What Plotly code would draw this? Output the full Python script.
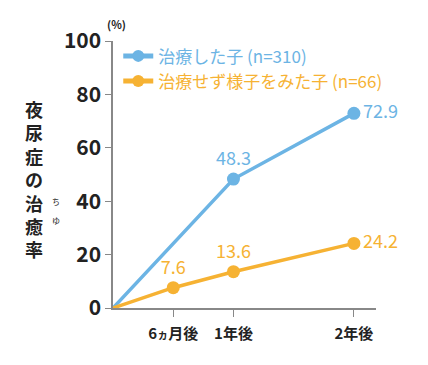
import plotly.graph_objects as go

months_treated = [0, 12, 24]
vals_treated = [0, 48.3, 72.9]
labels_treated = ["", "48.3", "72.9"]
pos_treated = ["top center", "top center", "middle right"]

months_watch = [0, 6, 12, 24]
vals_watch = [0, 7.6, 13.6, 24.2]
labels_watch = ["", "7.6", "13.6", "24.2"]
pos_watch = ["top center", "top center", "top center", "middle right"]

x_tickvals = [6, 12, 24]
x_ticktext = ["6<span style='font-size:11px'>ヵ</span>月後", "1年後", "2年後"]
y_tickvals = [0, 20, 40, 60, 80, 100]

name_treated = "治療した子 (n=310)"
name_watch = "治療せず様子をみた子 (n=66)"
y_title_chars = list("夜尿症の治癒率")
ruby_chars = ["ち", "ゆ"]

BLUE = "#6cb4e4"
ORANGE = "#f6b233"
FONT = "Noto Sans CJK JP"

# page body has an 8px margin; figure sized so that it fits the window
OFF = 8
L, R, T, B = 105, 52, 33, 57
W, H = 420, 357
PW, PH = W - L - R, H - T - B


def px_to_paper(px, py):
    return (px - OFF - L) / PW, (H - B - (py - OFF)) / PH


fig = go.Figure()
fig.add_trace(go.Scatter(
    x=months_treated, y=vals_treated, mode="lines+markers+text",
    name=f"<span style='color:{BLUE}'>{name_treated}</span>",
    line=dict(color=BLUE, width=3.5),
    marker=dict(color=BLUE, size=[0, 13, 13], opacity=1, line=dict(width=0)),
    text=labels_treated, textposition=pos_treated,
    textfont=dict(color=BLUE, size=18, family=FONT),
    cliponaxis=False,
))
fig.add_trace(go.Scatter(
    x=months_watch, y=vals_watch, mode="lines+markers+text",
    name=f"<span style='color:{ORANGE}'>{name_watch}</span>",
    line=dict(color=ORANGE, width=3.5),
    marker=dict(color=ORANGE, size=[0, 13, 13, 13], opacity=1, line=dict(width=0)),
    text=labels_watch, textposition=pos_watch,
    textfont=dict(color=ORANGE, size=18, family=FONT),
    cliponaxis=False,
))

fig.update_layout(
    width=W, height=H,
    margin=dict(l=L, r=R, t=T, b=B, autoexpand=False),
    paper_bgcolor="white", plot_bgcolor="white",
    font=dict(family=FONT, color="#222"),
    showlegend=True,
    legend=dict(x=0.02, y=1.01, xanchor="left", yanchor="top",
                font=dict(size=17, family=FONT),
                bgcolor="rgba(0,0,0,0)", itemsizing="constant",
                tracegroupgap=0, itemwidth=30),
    xaxis=dict(range=[0, 26.2], tickvals=x_tickvals, ticktext=x_ticktext,
               showgrid=False, zeroline=False, showline=True, automargin=False,
               linecolor="#888", linewidth=1.5, ticks="outside",
               ticklen=7, tickcolor="#888", ticklabelstandoff=4,
               tickfont=dict(size=15, color="#222", family=FONT, weight="bold")),
    yaxis=dict(range=[0, 100], tickvals=y_tickvals,
               showgrid=False, zeroline=False, showline=True, automargin=False,
               linecolor="#888", linewidth=1.5, ticks="outside",
               ticklen=6, tickcolor="#888",
               tickfont=dict(size=21, color="#222", family=FONT, weight="bold")),
)

fig.add_annotation(xref="paper", yref="paper", x=0.015, y=1, xanchor="center",
                   yanchor="bottom", yshift=7, showarrow=False,
                   text="(%)", font=dict(size=11, color="#222", family=FONT, weight="bold"))

xp, yp = px_to_paper(34, 179)
fig.add_annotation(xref="paper", yref="paper", x=xp, y=yp,
                   xanchor="center", yanchor="middle", showarrow=False,
                   text="<br>".join(y_title_chars),
                   font=dict(size=18, color="#222", family=FONT, weight="bold"))

for i, ch in enumerate(ruby_chars):
    xp, yp = px_to_paper(56, 201 + 19 * i)
    fig.add_annotation(xref="paper", yref="paper", x=xp, y=yp,
                       xanchor="center", yanchor="middle", showarrow=False,
                       text=ch, font=dict(size=8, color="#222", family=FONT))

fig.write_html("out.html")
